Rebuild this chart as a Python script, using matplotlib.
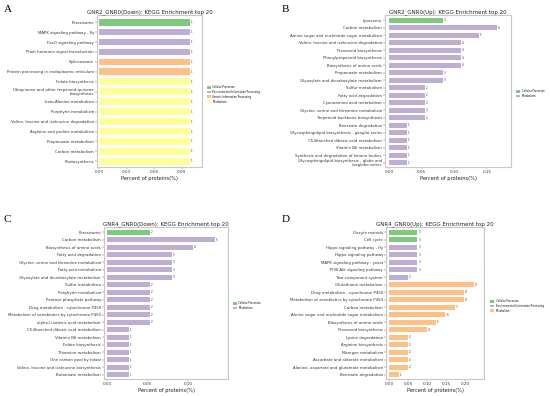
import matplotlib
matplotlib.use("Agg")
import matplotlib.pyplot as plt
from matplotlib.patches import Patch

W, H = 550, 396

# category colours (Accent-like palette)
CAT_COLORS = ['#7fc97f', '#beaed4', '#fdc086', '#ffff99']

# ---- Panel A: GNR2_GNR0(Down) ----
a_terms = ["Peroxisome", "MAPK signaling pathway - fly", "FoxO signaling pathway",
           "Plant hormone signal transduction", "Spliceosome",
           "Protein processing in endoplasmic reticulum", "Folate biosynthesis",
           "Ubiquinone and other terpenoid-quinone\nbiosynthesis", "beta-Alanine metabolism",
           "Porphyrin metabolism", "Valine, leucine and isoleucine degradation",
           "Arginine and proline metabolism", "Propanoate metabolism",
           "Carbon metabolism", "Photosynthesis"]
a_pct = [0.0987] * 15
a_count = [1] * 15
a_cat = [0, 1, 1, 1, 2, 2, 3, 3, 3, 3, 3, 3, 3, 3, 3]
a_legend = ["Cellular Processes", "Environmental Information Processing",
            "Genetic Information Processing", "Metabolism"]

# ---- Panel B: GNR2_GNR0(Up) ----
b_terms = ["Lysosome", "Carbon metabolism", "Amino sugar and nucleotide sugar metabolism",
           "Valine, leucine and isoleucine degradation", "Flavonoid biosynthesis",
           "Phenylpropanoid biosynthesis", "Biosynthesis of amino acids",
           "Propanoate metabolism", "Glyoxylate and dicarboxylate metabolism",
           "Sulfur metabolism", "Fatty acid degradation", "Cyanoamino acid metabolism",
           "Glycine, serine and threonine metabolism", "Terpenoid backbone biosynthesis",
           "Benzoate degradation", "Glycosphingolipid biosynthesis - ganglio series",
           "C5-Branched dibasic acid metabolism", "Vitamin B6 metabolism",
           "Synthesis and degradation of ketone bodies",
           "Glycosphingolipid biosynthesis - globo and\nisoglobo series"]
b_count = [3, 6, 5, 4, 4, 4, 4, 3, 3, 2, 2, 2, 2, 2, 1, 1, 1, 1, 1, 1]
b_pct = [0.0825, 0.165, 0.1375, 0.11, 0.11, 0.11, 0.11, 0.0825, 0.0825,
         0.055, 0.055, 0.055, 0.055, 0.055, 0.0275, 0.0275, 0.0275, 0.0275, 0.0275, 0.0275]
b_cat = [0] + [1] * 19
b_legend = ["Cellular Processes", "Metabolism"]

# ---- Panel C: GNR4_GNR0(Down) ----
c_terms = ["Peroxisome", "Carbon metabolism", "Biosynthesis of amino acids",
           "Fatty acid degradation", "Glycine, serine and threonine metabolism",
           "Fatty acid metabolism", "Glyoxylate and dicarboxylate metabolism",
           "Sulfur metabolism", "Porphyrin metabolism", "Pentose phosphate pathway",
           "Drug metabolism - cytochrome P450",
           "Metabolism of xenobiotics by cytochrome P450",
           "alpha-Linolenic acid metabolism", "C5-Branched dibasic acid metabolism",
           "Vitamin B6 metabolism", "Folate biosynthesis", "Thiamine metabolism",
           "One carbon pool by folate", "Valine, leucine and isoleucine biosynthesis",
           "Butanoate metabolism"]
c_count = [2, 5, 4, 3, 3, 3, 3, 2, 2, 2, 2, 2, 2, 1, 1, 1, 1, 1, 1, 1]
c_pct = [0.053, 0.1325, 0.106, 0.0795, 0.0795, 0.0795, 0.0795, 0.053, 0.053, 0.053,
         0.053, 0.053, 0.053, 0.0265, 0.0265, 0.0265, 0.0265, 0.0265, 0.0265, 0.0265]
c_cat = [0] + [1] * 19
c_legend = ["Cellular Processes", "Metabolism"]

# ---- Panel D: GNR4_GNR0(Up) ----
d_terms = ["Oocyte meiosis", "Cell cycle", "Hippo signaling pathway - fly",
           "Hippo signaling pathway", "MAPK signaling pathway - yeast",
           "PI3K-Akt signaling pathway", "Two-component system",
           "Glutathione metabolism", "Drug metabolism - cytochrome P450",
           "Metabolism of xenobiotics by cytochrome P450", "Carbon metabolism",
           "Amino sugar and nucleotide sugar metabolism", "Biosynthesis of amino acids",
           "Flavonoid biosynthesis", "Lysine degradation", "Arginine biosynthesis",
           "Nitrogen metabolism", "Ascorbate and aldarate metabolism",
           "Alanine, aspartate and glutamate metabolism", "Benzoate degradation"]
d_count = [3, 3, 3, 3, 3, 3, 2, 9, 8, 8, 7, 6, 5, 4, 2, 2, 2, 2, 2, 1]
d_pct = [0.0738, 0.0738, 0.0738, 0.0738, 0.0738, 0.0738, 0.0492, 0.2214, 0.1968, 0.1968,
         0.1722, 0.1476, 0.123, 0.0984, 0.0492, 0.0492, 0.0492, 0.0492, 0.0492, 0.0246]
d_cat = [0, 0, 1, 1, 1, 1, 1] + [2] * 13
d_legend = ["Cellular Processes", "Environmental Information Processing", "Metabolism"]


def ax_at(fig, l, t, r, b):
    return fig.add_axes([l / W, 1 - b / H, (r - l) / W, (b - t) / H])


def panel(fig, box, title, terms, pct, count, cat, legend, xlim, xticks, leg_xy, letter, letter_xy):
    ax = ax_at(fig, *box)
    n = len(terms)
    ys = list(range(n))
    colors = [CAT_COLORS[c] for c in cat]
    ax.barh(ys, pct, height=0.68, color=colors)
    for y, v, c in zip(ys, pct, count):
        ax.text(v + (xlim[1] - xlim[0]) * 0.01, y, str(c), fontsize=2.0, va='center', color='#333333')
    ax.set_yticks(ys)
    ax.set_yticklabels(terms, fontsize=2.8, color='#333333', linespacing=0.9)
    ax.set_ylim(n - 1 + 0.57, -0.72)
    ax.set_xlim(*xlim)
    ax.set_xticks(xticks)
    ax.set_xticklabels(["%.2f" % t for t in xticks], fontsize=3.0)
    ax.tick_params(length=1.2, width=0.3, pad=1, colors='#555555')
    ax.tick_params(axis='both', labelcolor='#333333')
    ax.set_xlabel("Percent of proteins(%)", fontsize=3.7, labelpad=1.5, color='#222222')
    ax.set_title(title, fontsize=4.0, pad=1.5, color='#222222')
    for s in ax.spines.values():
        s.set_color('#c8c8c8')
        s.set_linewidth(0.8)
    handles = [Patch(facecolor=CAT_COLORS[i], edgecolor='none') for i in range(len(legend))]
    if legend[-1] == "Metabolism":
        handles[-1] = Patch(facecolor=CAT_COLORS[max(cat)], edgecolor='none')
    ax.legend(handles, legend, loc='upper left', bbox_to_anchor=(leg_xy[0] / W, 1 - leg_xy[1] / H),
              bbox_transform=fig.transFigure, frameon=False, fontsize=1.8,
              handlelength=1.6, handleheight=1.4, labelspacing=0.35, handletextpad=0.6,
              borderpad=0, borderaxespad=0)
    fig.text(letter_xy[0] / W, 1 - letter_xy[1] / H, letter, fontsize=8,
             family='Liberation Serif', va='top', ha='left')
    return ax


fig = plt.figure(figsize=(W / 100, H / 100), dpi=100)

panel(fig, (97, 15, 202, 167), "GNR2_GNR0(Down): KEGG Enrichment top 20",
      a_terms, a_pct, a_count, a_cat, a_legend, (-0.0022, 0.112), [0.0, 0.03, 0.06, 0.09],
      (207, 85), "A", (4, 5))
panel(fig, (385, 15, 511, 167), "GNR2_GNR0(Up): KEGG Enrichment top 20",
      b_terms, b_pct, b_count, b_cat, b_legend, (-0.006, 0.187), [0.0, 0.05, 0.10, 0.15],
      (516, 89), "B", (282, 5))
panel(fig, (104, 227, 228, 379), "GNR4_GNR0(Down): KEGG Enrichment top 20",
      c_terms, c_pct, c_count, c_cat, c_legend, (-0.0037, 0.149), [0.0, 0.05, 0.10],
      (233, 301), "C", (4, 215))
panel(fig, (386, 227, 484, 379), "GNR4_GNR0(Up): KEGG Enrichment top 20",
      d_terms, d_pct, d_count, d_cat, d_legend, (-0.0087, 0.249), [0.0, 0.05, 0.10, 0.15, 0.20],
      (490, 299), "D", (282, 215))

fig.savefig("out.png", dpi=100)
